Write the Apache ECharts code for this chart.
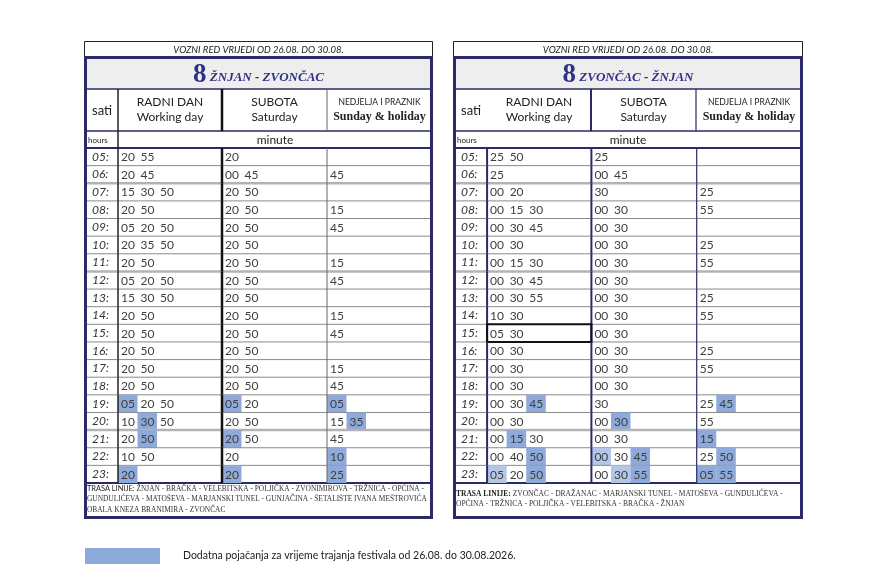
<!DOCTYPE html>
<html><head><meta charset="utf-8">
<script src="https://cdn.jsdelivr.net/npm/echarts@6/dist/echarts.min.js"></script>
<style>html,body{margin:0;padding:0;background:#fff}#c{width:873px;height:587px}</style>
</head><body><div id="c"></div>
<script>
// ---------- DATA ----------
const hours = ['05:','06:','07:','08:','09:','10:','11:','12:','13:','14:','15:','16:','17:','18:','19:','20:','21:','22:','23:'];
const validity = 'VOZNI RED VRIJEDI OD 26.08. DO 30.08.';
const lineNo = '8';
const directionA = 'ŽNJAN - ZVONČAC';
const directionB = 'ZVONČAC - ŽNJAN';
const dayHr = ['RADNI DAN', 'SUBOTA', 'NEDJELJA I PRAZNIK'];
const dayEn = ['Working day', 'Saturday', 'Sunday & holiday'];
const hoursHr = 'sati', hoursEn = 'hours', minuteLabel = 'minute';
// '*' = festival extra departure (dark), '+' = festival extra departure (light)
const znjanWorkday  = ['20 55','20 45','15 30 50','20 50','05 20 50','20 35 50','20 50','05 20 50','15 30 50','20 50','20 50','20 50','20 50','20 50','*05 20 50','10 *30 50','20 *50','10 50','*20'];
const znjanSaturday = ['20','00 45','20 50','20 50','20 50','20 50','20 50','20 50','20 50','20 50','20 50','20 50','20 50','20 50','*05 20','20 50','*20 50','20','*20'];
const znjanSunday   = ['','45','','15','45','','15','45','','15','45','','15','45','*05','15 *35','45','*10','*25'];
const zvoncacWorkday  = ['25 50','25','00 20','00 15 30','00 30 45','00 30','00 15 30','00 30 45','00 30 55','10 30','05 30','00 30','00 30','00 30','00 30 *45','00 30','00 *15 30','00 40 *50','+05 20 *50'];
const zvoncacSaturday = ['25','00 45','30','00 30','00 30','00 30','00 30','00 30','00 30','00 30','00 30','00 30','00 30','00 30','30','00 *30','00 30','+00 30 *45','00 +30 *55'];
const zvoncacSunday   = ['','','25','55','','25','55','','25','55','','25','55','','25 *45','55','*15','25 *50','*05 *55'];
const stopsA = ['TRASA LINIJE: ŽNJAN - BRAČKA - VELEBITSKA - POLJIČKA - ZVONIMIROVA - TRŽNICA - OPĆINA -',
                'GUNDULIĆEVA - MATOŠEVA - MARJANSKI TUNEL - GUNJAČINA - ŠETALIŠTE IVANA MEŠTROVIĆA',
                'OBALA KNEZA BRANIMIRA - ZVONČAC'];
const stopsB = ['TRASA LINIJE: ZVONČAC - DRAŽANAC - MARJANSKI TUNEL - MATOŠEVA - GUNDULIĆEVA -',
                'OPĆINA - TRŽNICA - POLJIČKA - VELEBITSKA - BRAČKA - ŽNJAN'];
const legendText = 'Dodatna pojačanja za vrijeme trajanja festivala od 26.08. do 30.08.2026.';

// ---------- STYLE / LAYOUT ----------
const NAVY = '#2a2a66', TITLE_C = '#31318a', HL_DARK = '#8eaadb', HL_LIGHT = '#b4c6e7', TXT = '#404040';
const SANS = 'Lato', SERIF = '"Liberation Serif"';
const COLS = [33, 137, 242, 347];   // column boundaries in table units
const SLOT = 19.5;
const THICK_AFTER = [1, 6, 15];
const tables = [
  { L: 84, W: 349, dir: directionA, days: [znjanWorkday, znjanSaturday, znjanSunday], stops: stopsA, stopsY: 489,
    vlines: [{c:'#222', w:1.5}, {c:'#111', w:2.5}, {c:'#666', w:1}], headV: [0,1,2], minuteCx: 191, boxed: null, boldTrasa: false, stopsFont: 7.4 },
  { L: 453, W: 350, dir: directionB, days: [zvoncacWorkday, zvoncacSaturday, zvoncacSunday], stops: stopsB, stopsY: 494,
    vlines: [{c:NAVY, w:2}, {c:NAVY, w:2}, {c:NAVY, w:1.2}], headV: [1,2], minuteCx: 175, boxed: {row:10, col:0}, boldTrasa: true, stopsFont: 7.5 }
];

function renderFor(tbl) {
  return function (params, api) {
    const row = params.dataIndex;
    const c = api.coord([0, row]);
    const h = api.size([0, 1])[1];
    const top = c[1] - h / 2, bot = c[1] + h / 2;
    const X = v => api.coord([v, row])[0];
    const ch = [];
    for (let d = 0; d < 3; d++) {
      const toks = tbl.days[d][row].split(' ').filter(Boolean);
      toks.forEach((t, k) => {
        const mark = t[0] === '*' ? HL_DARK : t[0] === '+' ? HL_LIGHT : null;
        const txt = mark ? t.slice(1) : t;
        const x0 = X(COLS[d] + k * SLOT), x1 = X(COLS[d] + (k + 1) * SLOT);
        if (mark) ch.push({ type: 'rect', shape: { x: x0, y: top, width: x1 - x0, height: h }, style: { fill: mark } });
        ch.push({ type: 'text', style: { text: txt, x: x0 + 3, y: c[1] + 0.5, textVerticalAlign: 'middle', font: '12px ' + SANS, fill: TXT } });
      });
    }
    if (row < hours.length - 1) {
      const thick = THICK_AFTER.includes(row);
      ch.push({ type: 'line', shape: { x1: X(0) + 1, y1: bot, x2: X(COLS[3]) - 1, y2: bot },
                style: { stroke: thick ? '#b3b3b3' : '#8a8a8a', lineWidth: thick ? 2.5 : 1 } });
    }
    for (let i = 0; i < 3; i++) {
      const x = X(COLS[i]);
      ch.push({ type: 'line', shape: { x1: x, y1: top, x2: x, y2: bot }, style: { stroke: tbl.vlines[i].c, lineWidth: tbl.vlines[i].w } });
    }
    if (tbl.boxed && tbl.boxed.row === row) {
      const a = X(COLS[tbl.boxed.col]), b = X(COLS[tbl.boxed.col + 1]);
      ch.push({ type: 'rect', shape: { x: a, y: top, width: b - a, height: h }, style: { fill: 'none', stroke: '#111', lineWidth: 2 } });
    }
    return { type: 'group', children: ch };
  };
}

function headerGraphics(tbl) {
  const L = tbl.L, W = tbl.W, g = [];
  const colX = [L + 34, L + 138, L + 243, L + W - 1];
  g.push({ type: 'rect', shape: { x: L + 0.5, y: 41.5, width: W - 1, height: 16 }, style: { fill: 'none', stroke: '#222', lineWidth: 1 } });
  g.push({ type: 'text', style: { text: validity, x: L + W / 2, y: 49.5, textAlign: 'center', textVerticalAlign: 'middle', font: 'italic 9.5px ' + SANS, fill: '#222' } });
  g.push({ type: 'rect', shape: { x: L + 2, y: 58, width: W - 4, height: 31 }, style: { fill: '#eeeeee' } });
  g.push({ type: 'text', style: { text: '{n|' + lineNo + '} {d|' + tbl.dir + '}', x: L + W / 2, y: 75, textAlign: 'center', textVerticalAlign: 'middle',
    rich: { n: { font: 'bold 27px ' + SERIF, fill: TITLE_C, color: TITLE_C }, d: { font: 'italic bold 13px ' + SERIF, fill: TITLE_C, color: TITLE_C, padding: [6, 0, 0, 0] } } } });
  g.push({ type: 'line', shape: { x1: L + 2, y1: 89, x2: L + W - 2, y2: 89 }, style: { stroke: NAVY, lineWidth: 1.3 } });
  g.push({ type: 'text', style: { text: hoursHr, x: L + 8, y: 111, textVerticalAlign: 'middle', font: '13px ' + SANS, fill: '#222' } });
  for (let d = 0; d < 3; d++) {
    const cx = (colX[d] + colX[d + 1]) / 2;
    g.push({ type: 'text', style: { text: dayHr[d], x: cx, y: 102, textAlign: 'center', textVerticalAlign: 'middle', font: (d === 2 ? '8.5px ' : '12px ') + SANS, fill: '#222' } });
    g.push({ type: 'text', style: { text: dayEn[d], x: cx, y: 117, textAlign: 'center', textVerticalAlign: 'middle', font: d === 2 ? 'bold 12px ' + SERIF : '12px ' + SANS, fill: '#222' } });
  }
  g.push({ type: 'line', shape: { x1: L + 2, y1: 131, x2: L + W - 2, y2: 131 }, style: { stroke: NAVY, lineWidth: 1.5 } });
  g.push({ type: 'text', style: { text: hoursEn, x: L + 4, y: 140, textVerticalAlign: 'middle', font: '8px ' + SANS, fill: '#222' } });
  g.push({ type: 'text', style: { text: minuteLabel, x: L + tbl.minuteCx, y: 140, textAlign: 'center', textVerticalAlign: 'middle', font: '12px ' + SANS, fill: '#222' } });
  g.push({ type: 'line', shape: { x1: L + 2, y1: 148, x2: L + W - 2, y2: 148 }, style: { stroke: NAVY, lineWidth: 2 } });
  tbl.headV.forEach(i => {
    const s = tbl.vlines[i];
    g.push({ type: 'line', shape: { x1: colX[i], y1: 89, x2: colX[i], y2: i === 0 ? 148 : 131 }, style: { stroke: s.c, lineWidth: s.w } });
  });
  g.push({ type: 'line', shape: { x1: L + 2, y1: 483, x2: L + W - 2, y2: 483 }, style: { stroke: NAVY, lineWidth: 2 } });
  tbl.stops.forEach((s, i) => {
    let text = s;
    if (i === 0) text = '{b|TRASA LINIJE:}' + s.slice('TRASA LINIJE:'.length);
    g.push({ type: 'text', style: { text: text, x: L + 3, y: tbl.stopsY + i * 10.5, textVerticalAlign: 'middle', font: tbl.stopsFont + 'px ' + SERIF, fill: '#333',
      rich: { b: { font: (tbl.boldTrasa ? 'bold ' + tbl.stopsFont + 'px ' + SERIF : tbl.stopsFont + 'px ' + SANS), fill: '#222', color: '#222' } } } });
  });
  g.push({ type: 'rect', z: 100, shape: { x: L + 1.5, y: 57.5, width: W - 3, height: 460 }, style: { fill: 'none', stroke: NAVY, lineWidth: 3 } });
  return g;
}

const chart = echarts.init(document.getElementById('c'), null, { renderer: 'canvas' });
const grids = [], xAxes = [], yAxes = [], series = [];
tables.forEach((t, i) => {
  grids.push({ left: t.L + 1, top: 148, width: t.W - 2, height: 335 });
  xAxes.push({ gridIndex: i, type: 'value', min: 0, max: COLS[3], show: false });
  yAxes.push({ gridIndex: i, type: 'category', data: hours, inverse: true,
    axisLine: { show: false }, axisTick: { show: false }, splitLine: { show: false },
    axisLabel: { inside: true, margin: 7, align: 'left', fontFamily: SANS, fontStyle: 'italic', fontSize: 12, color: '#333' } });
  series.push({ type: 'custom', name: legendText, xAxisIndex: i, yAxisIndex: i, clip: false,
    itemStyle: { color: HL_DARK }, renderItem: renderFor(t), data: hours.map((h, k) => [0, k]), z: 2 });
});
chart.setOption({
  animation: false,
  backgroundColor: '#fff',
  grid: grids, xAxis: xAxes, yAxis: yAxes, series: series,
  legend: { data: [{ name: legendText, icon: 'rect' }], left: 85, top: 548, padding: 0, itemWidth: 75, itemHeight: 16, selectedMode: false,
    textStyle: { fontFamily: SANS, fontSize: 10.5, color: '#222', padding: [0, 0, 0, 18] } },
  graphic: [].concat(headerGraphics(tables[0]), headerGraphics(tables[1]))
});
</script></body></html>
